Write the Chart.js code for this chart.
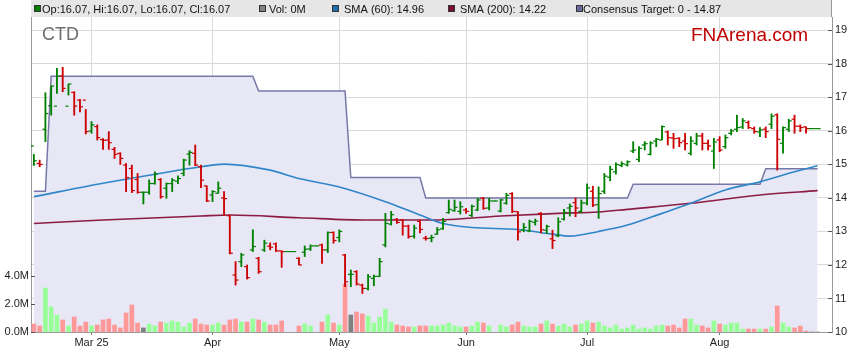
<!DOCTYPE html>
<html>
<head>
<meta charset="utf-8">
<title>CTD</title>
<script src="https://cdn.jsdelivr.net/npm/chart.js@4.4.1/dist/chart.umd.min.js"></script>
<style>
  html, body { margin: 0; padding: 0; background: #fff; }
  #wrap { width: 859px; height: 363px; }
</style>
</head>
<body>
<div id="wrap"><canvas id="chart" width="859" height="363"></canvas></div>
<script>
// CTD – barres OHLC journalières, volume, SMA 60/200 et objectif consensus
// un créneau par jour ouvré : lun. 17 févr. 2025 (0) -> mar. 26 août 2025 (136)
// jours fériés (18/21/25 avr., 9 juin) et deux derniers créneaux : cours plat, pas de volume

const priorClose = 15.05;

const opens = [
  15.55, 15.03, 16.05, 16.75, 16.74, 17.64, 16.74, 17.15, 16.92, 16.92,
  16.00, 16.13, 15.74, 15.73, 15.45, 15.33, 14.98, 14.88, 14.55, 14.17,
  14.17, 14.43, 14.55, 14.29, 14.43, 14.50, 14.73, 15.31, 15.33, 14.93,
  14.36, 14.09, 14.14, 14.00, 13.47, 11.70, 12.10, 11.95, 12.45, 12.20,
  12.45, 12.56, 12.63, 12.42, 12.40, 12.40, 12.20, 12.38, 12.48, 12.57,
  12.60, 12.45, 12.97, 12.82, 12.30, 11.72, 11.80, 11.40, 11.30, 11.60,
  11.66, 12.60, 13.22, 13.36, 13.34, 13.16, 12.86, 13.30, 12.80, 12.80,
  12.92, 13.08, 13.56, 13.62, 13.60, 13.64, 13.48, 13.64, 13.99, 13.70,
  13.91, 13.61, 13.84, 14.13, 13.59, 13.04, 13.02, 13.27, 13.54, 13.04,
  12.78, 12.87, 13.37, 13.70, 13.86, 13.60, 13.85, 14.20, 13.80, 14.20,
  14.62, 14.78, 14.97, 14.99, 15.40, 15.15, 15.58, 15.30, 15.70, 15.73,
  15.97, 15.79, 15.78, 15.70, 15.33, 15.63, 15.85, 15.63, 15.40, 15.73,
  15.53, 15.93, 16.05, 16.12, 16.25, 16.07, 15.97, 16.05, 16.20, 16.48,
  15.63, 16.05, 16.35, 16.14, 16.12, 16.07, 16.07
];

const highs = [
  15.30, 15.13, 17.14, 17.34, 17.87, 17.90, 17.40, 17.17, 16.94, 16.64,
  16.28, 16.18, 15.77, 15.98, 15.51, 15.35, 15.03, 14.98, 14.73, 14.18,
  14.54, 14.78, 14.58, 14.45, 14.58, 14.66, 15.16, 15.41, 15.58, 14.98,
  14.36, 14.22, 14.48, 14.19, 13.49, 12.10, 12.35, 12.00, 13.05, 12.23,
  12.74, 12.66, 12.66, 12.42, 12.40, 12.40, 12.22, 12.57, 12.60, 12.57,
  12.62, 12.99, 12.99, 13.05, 12.32, 11.85, 11.83, 11.43, 11.72, 11.70,
  12.20, 13.54, 13.60, 13.39, 13.36, 13.19, 13.19, 13.34, 12.86, 12.89,
  13.12, 13.39, 13.94, 13.94, 13.89, 13.69, 13.79, 13.99, 14.02, 13.99,
  13.91, 13.96, 14.14, 14.16, 13.59, 13.24, 13.34, 13.37, 13.56, 13.19,
  13.04, 13.41, 13.66, 13.82, 14.00, 13.94, 14.42, 14.35, 14.33, 14.73,
  14.95, 15.05, 15.08, 15.11, 15.68, 15.53, 15.68, 15.68, 15.78, 16.15,
  16.00, 15.93, 15.80, 15.93, 15.83, 15.93, 15.93, 15.73, 15.78, 15.83,
  15.88, 16.05, 16.47, 16.37, 16.30, 16.12, 16.10, 16.12, 16.51, 16.51,
  16.12, 16.35, 16.47, 16.18, 16.12, 16.07, 16.07
];

const lows = [
  14.97, 14.93, 15.68, 16.47, 17.12, 17.17, 17.07, 16.47, 16.57, 15.91,
  15.93, 15.73, 15.45, 15.45, 15.18, 15.00, 14.19, 14.16, 14.14, 13.82,
  14.11, 14.41, 13.99, 13.99, 14.19, 14.43, 14.66, 14.98, 14.96, 14.31,
  13.89, 13.89, 14.14, 13.49, 12.33, 11.40, 11.95, 11.58, 12.40, 11.75,
  12.40, 12.45, 12.40, 11.93, 12.40, 12.40, 12.00, 12.25, 12.43, 12.57,
  12.05, 12.37, 12.65, 12.69, 11.35, 11.35, 11.40, 11.15, 11.25, 11.38,
  11.65, 12.54, 13.19, 13.24, 12.89, 12.80, 12.80, 12.96, 12.74, 12.69,
  12.91, 13.06, 13.54, 13.60, 13.52, 13.54, 13.44, 13.62, 13.66, 13.64,
  13.91, 13.58, 13.81, 13.56, 12.74, 12.99, 12.99, 13.19, 12.96, 12.94,
  12.49, 12.84, 13.34, 13.46, 13.44, 13.56, 13.79, 13.74, 13.39, 14.13,
  14.51, 14.71, 14.93, 14.95, 15.35, 15.08, 15.43, 15.28, 15.53, 15.73,
  15.58, 15.48, 15.53, 15.43, 15.28, 15.58, 15.43, 15.43, 14.88, 15.38,
  15.48, 15.88, 15.98, 16.07, 16.07, 15.93, 15.83, 15.80, 16.07, 14.83,
  15.34, 15.98, 15.93, 15.98, 15.93, 16.07, 16.07
];

const closes = [
  15.11, 15.00, 16.52, 17.34, 17.63, 17.27, 17.40, 16.74, 16.72, 15.98,
  16.18, 15.80, 15.72, 15.65, 15.30, 15.18, 14.61, 14.22, 14.17, 14.17,
  14.43, 14.71, 14.04, 14.43, 14.53, 14.58, 15.13, 15.36, 14.98, 14.53,
  13.91, 14.19, 14.29, 13.98, 12.35, 11.55, 12.30, 11.62, 12.55, 11.80,
  12.65, 12.53, 12.42, 12.40, 12.40, 12.40, 12.00, 12.47, 12.57, 12.57,
  12.45, 12.97, 12.73, 13.00, 11.50, 11.72, 11.43, 11.30, 11.65, 11.66,
  12.10, 13.24, 13.50, 13.27, 13.16, 12.85, 13.10, 13.06, 12.79, 12.82,
  13.05, 13.30, 13.66, 13.72, 13.74, 13.60, 13.75, 13.94, 13.69, 13.91,
  13.91, 13.94, 14.08, 13.60, 12.99, 13.12, 13.30, 13.31, 13.05, 13.15,
  12.73, 13.29, 13.57, 13.75, 13.70, 13.85, 14.30, 13.79, 14.13, 14.65,
  14.85, 15.00, 15.02, 15.08, 15.43, 15.48, 15.62, 15.64, 15.75, 16.13,
  15.80, 15.77, 15.65, 15.62, 15.70, 15.85, 15.63, 15.55, 15.67, 15.43,
  15.80, 16.00, 16.10, 16.30, 16.10, 15.98, 16.03, 15.98, 16.44, 15.75,
  16.10, 16.30, 16.14, 16.10, 16.07, 16.07, 16.07
];

// volume en millions (null = jour férié)
const volumes = [
  0.57, 0.43, 3.14, 1.79, 1.21, 0.86, 0.43, 1.07, 0.43, 0.71,
  0.43, 0.50, 0.86, 0.93, 0.50, 0.29, 1.36, 1.93, 0.64, 0.29,
  0.57, 0.43, 0.71, 0.64, 0.79, 0.71, 0.36, 0.64, 0.93, 0.57,
  0.50, 0.50, 0.64, 0.50, 0.86, 0.93, 0.71, 0.71, 0.93, 0.86,
  0.71, 0.50, 0.50, 0.79, null, null, 0.43, 0.57, 0.43, null,
  0.71, 1.21, 0.64, 0.50, 3.43, 1.21, 1.43, 1.29, 1.14, 0.64,
  1.07, 1.64, 0.71, 0.50, 0.43, 0.36, 0.36, 0.43, 0.43, 0.43,
  0.43, 0.50, 0.64, 0.43, 0.36, 0.36, 0.43, 0.71, 0.64, 0.43,
  null, 0.50, 0.36, 0.50, 0.71, 0.43, 0.36, 0.36, 0.57, 0.79,
  0.57, 0.43, 0.57, 0.36, 0.50, 0.57, 0.79, 0.64, 0.71, 0.43,
  0.29, 0.50, 0.21, 0.29, 0.50, 0.21, 0.29, 0.21, 0.43, 0.50,
  0.43, 0.50, 0.29, 0.93, 0.93, 0.50, 0.43, 0.29, 0.79, 0.57,
  0.50, 0.64, 0.64, 0.21, 0.21, 0.21, 0.21, 0.21, 0.36, 1.86,
  0.64, 0.36, 0.29, 0.43, 0.07, 0, 0
];

// moyennes mobiles (créneau, valeur)
const sma60Days = [0, 12, 20, 29, 33, 41, 46, 53, 61, 67, 71, 76, 84, 90, 93, 98, 103, 109, 114, 120, 126, 132, 136];
const sma60 = [14.04, 14.44, 14.68, 14.93, 15.01, 14.83, 14.58, 14.33, 13.89, 13.49, 13.24, 13.12, 13.06, 12.92, 12.86, 13.00, 13.19, 13.54, 13.84, 14.24, 14.48, 14.78, 14.96];
const sma200Days = [0, 12, 29, 34, 46, 58, 69, 81, 91, 98, 103, 114, 126, 136];
const sma200 = [13.24, 13.34, 13.46, 13.49, 13.41, 13.34, 13.34, 13.46, 13.54, 13.58, 13.66, 13.84, 14.09, 14.22];

// objectif consensus (paliers)
const targetDays = [0, 2, 3, 38, 39, 54, 55, 67, 68, 103, 104, 126, 127, 136];
const targetLevels = [14.2, 14.2, 17.63, 17.63, 17.19, 17.19, 14.61, 14.61, 14.0, 14.0, 14.41, 14.41, 14.87, 14.87];

// axes
const monthSlots = [10, 31, 53, 75, 96, 119];
const monthLabels = ['Mar 25', 'Apr', 'May', 'Jun', 'Jul', 'Aug'];
const priceTicks = [10, 11, 12, 13, 14, 15, 16, 17, 18, 19];
const volumeTicks = [0, 2, 4];

const FONT = "'Liberation Sans', Arial, sans-serif";
const UP = '#008000', DOWN = '#cc0000';
const VOL_UP = '#99ff99', VOL_DOWN = '#ff9999', VOL_FLAT = '#808080';
const SMA60_COLOR = '#2f86c8', SMA200_COLOR = '#8c1c44', TARGET_COLOR = '#7878a8';

const slots = closes.map((_, i) => i);

function priceColor(i) {
  const prev = i ? closes[i - 1] : priorClose;
  return closes[i] >= prev ? UP : DOWN;
}
function volumeColor(i) {
  if (closes[i] > opens[i]) return VOL_UP;
  if (closes[i] < opens[i]) return VOL_DOWN;
  return VOL_FLAT;
}

const TICK_OFF = 0.26; // demi-largeur des tirets open/close, en créneaux

const chrome = {
  id: 'chrome',
  beforeDraw(chart) {
    const { ctx, chartArea: a } = chart;
    ctx.save();
    ctx.fillStyle = '#fff';
    ctx.fillRect(0, 0, chart.width, chart.height);
    ctx.fillStyle = '#e6e6e6';
    ctx.fillRect(a.left, 0, a.right - a.left, a.top);
    ctx.restore();
  },
  afterDraw(chart) {
    const { ctx, chartArea: a, scales } = chart;
    const last = closes.length - 1;
    ctx.save();
    // petits repères intérieurs
    ctx.strokeStyle = '#555';
    ctx.lineWidth = 1;
    priceTicks.forEach(v => {
      const y = Math.round(scales.price.getPixelForValue(v)) + 0.5;
      ctx.beginPath(); ctx.moveTo(a.right - 4, y); ctx.lineTo(a.right, y); ctx.stroke();
    });
    volumeTicks.forEach(v => {
      const y = Math.round(scales.vol.getPixelForValue(v)) + 0.5;
      ctx.beginPath(); ctx.moveTo(a.left, y); ctx.lineTo(a.left + 4, y); ctx.stroke();
    });
    ctx.strokeStyle = '#999';
    ctx.beginPath(); ctx.moveTo(Math.round(a.right) - 0.5, 0); ctx.lineTo(Math.round(a.right) - 0.5, a.top); ctx.stroke();

    // légende
    const f2 = v => v.toFixed(2);
    const items = [
      { x: 34, tx: 42, color: UP, text: `Op:${f2(opens[last])}, Hi:${f2(highs[last])}, Lo:${f2(lows[last])}, Cl:${f2(closes[last])}` },
      { x: 259, tx: 269, color: VOL_FLAT, text: `Vol: ${Math.round(volumes[last])}M` },
      { x: 332, tx: 344, color: '#1f6fb0', text: `SMA (60): ${f2(sma60[sma60.length - 1])}` },
      { x: 448, tx: 460, color: '#7a0c2e', text: `SMA (200): ${f2(sma200[sma200.length - 1])}` },
      { x: 576, tx: 583, color: '#6a6a9c', text: `Consensus Target: 0 - ${f2(targetLevels[targetLevels.length - 1])}` }
    ];
    ctx.font = `11px ${FONT}`;
    ctx.textBaseline = 'alphabetic';
    items.forEach(it => {
      ctx.fillStyle = it.color;
      ctx.fillRect(it.x, 5, 7, 7);
      ctx.strokeStyle = '#333';
      ctx.strokeRect(it.x + 0.5, 5.5, 6, 6);
      ctx.fillStyle = '#111';
      ctx.fillText(it.text, it.tx, 12.5);
    });

    // titres
    ctx.font = `18px ${FONT}`;
    ctx.fillStyle = '#6e6e6e';
    ctx.fillText('CTD', 42, 40);
    ctx.font = `19px ${FONT}`;
    ctx.fillStyle = '#c00000';
    ctx.fillText('FNArena.com', 691, 41);
    ctx.restore();
  }
};

new Chart(document.getElementById('chart'), {
  type: 'bar',
  data: {
    datasets: [
      {
        type: 'scatter', label: 'open', order: 0,
        data: slots.map(i => ({ x: i - TICK_OFF, y: opens[i] })),
        pointStyle: 'line', pointRadius: 1.5, pointBorderWidth: 1.2,
        pointBorderColor: c => priceColor(c.dataIndex), yAxisID: 'price'
      },
      {
        type: 'scatter', label: 'close', order: 0,
        data: slots.map(i => ({ x: i + TICK_OFF, y: closes[i] })),
        pointStyle: 'line', pointRadius: 1.5, pointBorderWidth: 1.2,
        pointBorderColor: c => priceColor(c.dataIndex), yAxisID: 'price'
      },
      {
        type: 'bar', label: 'range', order: 1,
        data: slots.map(i => ({ x: i, y: [lows[i], highs[i]] })),
        backgroundColor: c => priceColor(c.dataIndex),
        barThickness: 1.2, grouped: false, borderWidth: 0, yAxisID: 'price'
      },
      {
        type: 'line', label: 'SMA (60)', order: 4,
        data: sma60Days.map((d, k) => ({ x: d, y: sma60[k] })),
        borderColor: SMA60_COLOR, borderWidth: 1.6, pointRadius: 0,
        cubicInterpolationMode: 'monotone', yAxisID: 'price'
      },
      {
        type: 'line', label: 'SMA (200)', order: 5,
        data: sma200Days.map((d, k) => ({ x: d, y: sma200[k] })),
        borderColor: SMA200_COLOR, borderWidth: 1.6, pointRadius: 0,
        cubicInterpolationMode: 'monotone', yAxisID: 'price'
      },
      {
        type: 'bar', label: 'Vol', order: 7,
        data: slots.map(i => ({ x: i, y: volumes[i] })),
        backgroundColor: c => volumeColor(c.dataIndex),
        barThickness: 4, grouped: false, borderWidth: 0, yAxisID: 'vol'
      },
      {
        type: 'line', label: 'Consensus Target', order: 9,
        data: targetDays.map((d, k) => ({ x: d, y: targetLevels[k] })),
        borderColor: TARGET_COLOR, borderWidth: 1.5, pointRadius: 0, tension: 0,
        fill: 'start', backgroundColor: '#e7e7f6', yAxisID: 'price'
      }
    ]
  },
  options: {
    responsive: false,
    animation: false,
    devicePixelRatio: 1,
    layout: { padding: { top: 17, left: 0, right: 0, bottom: 0 } },
    plugins: { legend: { display: false }, tooltip: { enabled: false } },
    scales: {
      x: {
        type: 'linear', min: -0.5, max: 138.5, offset: false,
        afterBuildTicks: s => { s.ticks = monthSlots.map(v => ({ value: v })); },
        afterFit: s => { s.height = 31; },
        ticks: {
          autoSkip: false, maxRotation: 0, padding: 1, color: '#222',
          font: { family: FONT, size: 11 },
          callback: v => monthLabels[monthSlots.indexOf(v)]
        },
        grid: { color: '#d9d9d9', offset: false, tickLength: 3, tickColor: '#777' },
        border: { color: '#999' }
      },
      price: {
        type: 'linear', position: 'right', min: 10, max: 19.4,
        afterBuildTicks: s => { s.ticks = priceTicks.map(v => ({ value: v })); },
        afterFit: s => { s.width = 27; },
        ticks: { padding: 3, color: '#222', font: { family: FONT, size: 11 } },
        grid: { color: '#d9d9d9', drawTicks: false },
        border: { color: '#999' }
      },
      vol: {
        type: 'linear', position: 'left', min: 0, max: 22.5,
        afterBuildTicks: s => { s.ticks = volumeTicks.map(v => ({ value: v })); },
        afterFit: s => { s.width = 31; },
        ticks: { padding: 2, color: '#222', font: { family: FONT, size: 11 }, callback: v => v.toFixed(1) + 'M' },
        grid: { display: false, drawTicks: false },
        border: { color: '#999' }
      }
    }
  },
  plugins: [chrome]
});
</script>
</body>
</html>
